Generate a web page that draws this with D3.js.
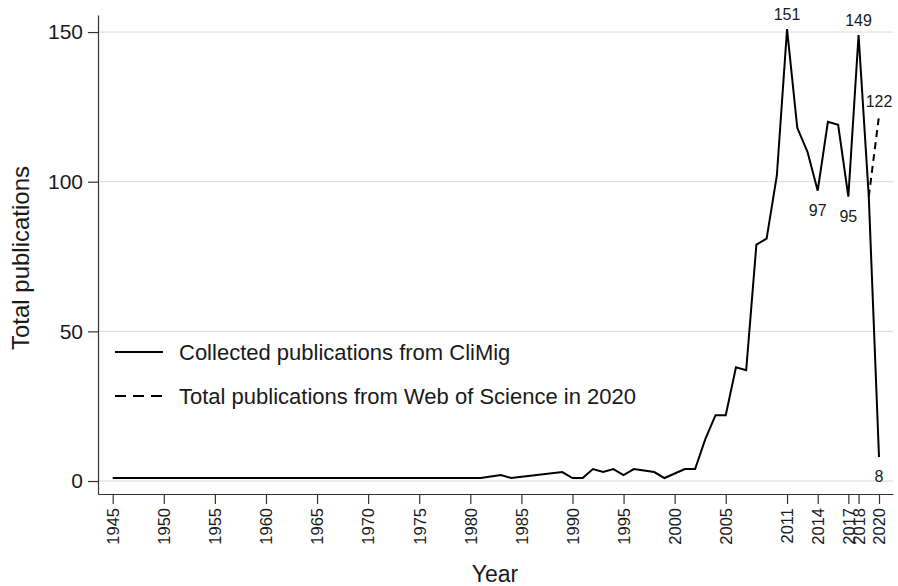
<!DOCTYPE html>
<html>
<head>
<meta charset="utf-8">
<script src="https://cdn.jsdelivr.net/npm/d3@7"></script>
<style>
  body { margin: 0; background: #fff; }
  svg { display: block; font-family: "Liberation Sans", Arial, sans-serif; }
  .grid line { stroke: #d9d9d9; stroke-width: 1; }
  .axis path, .axis line { stroke: #333; stroke-width: 1.2; }
  .axis text { fill: #1a1a1a; }
</style>
</head>
<body>
<svg id="chart" width="898" height="586"></svg>
<script>
// 数据：CliMig收集的出版物 (年份, 数量)
const years = [
  1945, 1946, 1947, 1948, 1949, 1950, 1951, 1952, 1953, 1954,
  1955, 1956, 1957, 1958, 1959, 1960, 1961, 1962, 1963, 1964,
  1965, 1966, 1967, 1968, 1969, 1970, 1971, 1972, 1973, 1974,
  1975, 1976, 1977, 1978, 1979, 1980, 1981, 1983, 1984, 1989,
  1990, 1991, 1992, 1993, 1994, 1995, 1996, 1998, 1999, 2001,
  2002, 2003, 2004, 2005, 2006, 2007, 2008, 2009, 2010, 2011,
  2012, 2013, 2014, 2015, 2016, 2017, 2018, 2019, 2020
];
const climig = [
  1, 1, 1, 1, 1, 1, 1, 1, 1, 1,
  1, 1, 1, 1, 1, 1, 1, 1, 1, 1,
  1, 1, 1, 1, 1, 1, 1, 1, 1, 1,
  1, 1, 1, 1, 1, 1, 1, 2, 1, 3,
  1, 1, 4, 3, 4, 2, 4, 3, 1, 4,
  4, 14, 22, 22, 38, 37, 79, 81, 102, 151,
  118, 110, 97, 120, 119, 95, 149, 95, 8
];
// Web of Science 2020 总数 (虚线)
const wosYears = [2019, 2020];
const wosValues = [95, 122];

const xTicks = [1945, 1950, 1955, 1960, 1965, 1970, 1975, 1980, 1985, 1990, 1995, 2000, 2005, 2011, 2014, 2017, 2018, 2020];
const yTicks = [0, 50, 100, 150];

// 标注点：年份、位置(上/下)
const labelYears = [2011, 2014, 2017, 2018, 2020];
const labelPos = ["above", "below", "below", "above", "below"];
const legendLabels = ["Collected publications from CliMig", "Total publications from Web of Science in 2020"];

const svg = d3.select("#chart");

// 比例尺
const x = d3.scaleLinear().domain([1943.56, 2021.37]).range([98, 893]);
const y = d3.scaleLinear().domain([-4.34, 155.7]).range([494, 15]);

// 网格线
svg.append("g").attr("class", "grid")
  .selectAll("line").data(yTicks).enter().append("line")
  .attr("x1", 98).attr("x2", 893)
  .attr("y1", d => y(d)).attr("y2", d => y(d));

// Y轴
const yAxis = svg.append("g").attr("class", "axis")
  .attr("transform", "translate(98,0)")
  .call(d3.axisLeft(y).tickValues(yTicks).tickSize(10).tickSizeOuter(0).tickPadding(5));
yAxis.selectAll("text").style("font-size", "21px");

// X轴
const xAxis = svg.append("g").attr("class", "axis")
  .attr("transform", "translate(0,494)")
  .call(d3.axisBottom(x).tickValues(xTicks).tickFormat(d3.format("d")).tickSize(10).tickSizeOuter(0));
xAxis.selectAll("text")
  .style("font-size", "16.5px")
  .attr("text-anchor", "end")
  .attr("transform", "rotate(-90)")
  .attr("x", -14).attr("y", 0).attr("dy", "0.35em");

// 轴标题
svg.append("text")
  .attr("transform", "translate(29,258) rotate(-90)")
  .attr("text-anchor", "middle")
  .style("font-size", "24px").style("fill", "#1a1a1a")
  .text("Total publications");
svg.append("text")
  .attr("x", 495).attr("y", 582)
  .attr("text-anchor", "middle")
  .style("font-size", "23px").style("fill", "#1a1a1a")
  .text("Year");

// 折线
const line = d3.line().x(d => x(d[0])).y(d => y(d[1]));
const solidData = years.map((yr, i) => [yr, climig[i]]);
const dashData = wosYears.map((yr, i) => [yr, wosValues[i]]);

svg.append("path").datum(dashData)
  .attr("fill", "none").attr("stroke", "#000").attr("stroke-width", 2)
  .attr("stroke-dasharray", "7,5")
  .attr("d", line);

svg.append("path").datum(solidData)
  .attr("fill", "none").attr("stroke", "#000").attr("stroke-width", 2)
  .attr("stroke-linejoin", "miter")
  .attr("d", line);

// 数值标注
const labels = labelYears.map((yr, i) => ({ yr, v: climig[years.indexOf(yr)], pos: labelPos[i] }));
labels.push({ yr: wosYears[1], v: wosValues[1], pos: "above" });
svg.append("g").selectAll("text").data(labels).enter().append("text")
  .attr("x", d => x(d.yr))
  .attr("y", d => d.pos === "above" ? y(d.v) - 9 : y(d.v) + 25)
  .attr("text-anchor", "middle")
  .style("font-size", "16px").style("fill", "#1a1a1a")
  .text(d => d.v);

// 图例
const legend = svg.append("g").attr("transform", "translate(115,352)");
legendLabels.forEach((lab, i) => {
  const g = legend.append("g").attr("transform", `translate(0,${i * 44})`);
  g.append("line")
    .attr("x1", 0).attr("x2", 48).attr("y1", 0).attr("y2", 0)
    .attr("stroke", "#000").attr("stroke-width", 2)
    .attr("stroke-dasharray", i === 1 ? "11,7" : null);
  g.append("text")
    .attr("x", 64).attr("y", 0).attr("dy", "0.35em")
    .style("font-size", "22px").style("fill", "#1a1a1a")
    .text(lab);
});
</script>
</body>
</html>
